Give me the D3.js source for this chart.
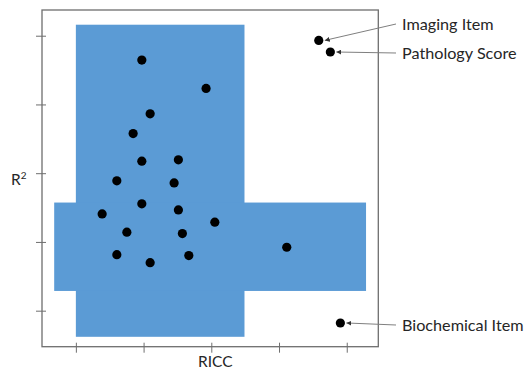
<!DOCTYPE html>
<html>
<head>
<meta charset="utf-8">
<script src="https://cdn.jsdelivr.net/npm/d3@7/dist/d3.min.js"></script>
<style>
  html, body { margin: 0; padding: 0; background: #fff; }
  svg { display: block; }
  text { font-family: Lato, "Open Sans", sans-serif; fill: #262626; }
</style>
</head>
<body>
<svg id="chart" width="527" height="372"></svg>
<script>
// ---- data ----
const xTicks = [1, 2, 3, 4, 5];
const yTicks = [1, 2, 3, 4, 5];
// acceptable region (cross shape): [x0, x1, y0, y1]
const regionVertical = [1.0, 3.49, 0.62, 5.16];
const regionHorizontal = [0.68, 5.285, 1.287, 2.573];
const pointX = [1.974, 2.923, 2.097, 1.846, 1.974, 2.514, 1.605, 2.451, 1.974, 1.388, 2.514,
                3.052, 1.753, 2.573, 1.605, 2.097, 2.668, 4.114, 4.906, 4.587, 4.758];
const pointY = [4.646, 4.233, 3.864, 3.577, 3.175, 3.194, 2.889, 2.859, 2.554, 2.408, 2.466,
                2.287, 2.142, 2.121, 1.815, 1.699, 1.801, 1.923, 0.821, 4.932, 4.763];
const annotLabels = ["Imaging Item", "Pathology Score", "Biochemical Item"];
const annotPointIndex = [19, 20, 18];
const xLabel = "RICC";

// ---- layout ----
const svg = d3.select("#chart");
const mLeft = 42, mTop = 10, mRight = 378.3, mBottom = 346.7;
const x = d3.scaleLinear().domain([0.5, 5.466]).range([mLeft, mRight]);
const y = d3.scaleLinear().domain([0.476, 5.374]).range([mBottom, mTop]);

// region
const regionColor = "#5b9bd5";
[regionVertical, regionHorizontal].forEach(r => {
  svg.append("rect")
    .attr("x", x(r[0])).attr("y", y(r[3]))
    .attr("width", x(r[1]) - x(r[0])).attr("height", y(r[2]) - y(r[3]))
    .attr("fill", regionColor);
});

// frame
svg.append("rect")
  .attr("x", mLeft).attr("y", mTop)
  .attr("width", mRight - mLeft).attr("height", mBottom - mTop)
  .attr("fill", "none").attr("stroke", "#6e6e6e").attr("stroke-width", 1.3);

// axes
const xAxis = svg.append("g").attr("transform", `translate(0,${mBottom})`)
  .call(d3.axisBottom(x).tickValues(xTicks).tickSize(6).tickFormat(""));
xAxis.select(".domain").remove();
xAxis.selectAll(".tick line").attr("y1", -4).attr("stroke", "#6e6e6e");

const yAxis = svg.append("g").attr("transform", `translate(${mLeft},0)`)
  .call(d3.axisLeft(y).tickValues(yTicks).tickSize(6).tickFormat(""));
yAxis.select(".domain").remove();
yAxis.selectAll(".tick line").attr("x1", 4).attr("stroke", "#6e6e6e");

// axis labels
svg.append("text").attr("x", (x(1) + x(5)) / 2 + 4).attr("y", 367)
  .attr("text-anchor", "middle").attr("font-size", 15.5).text(xLabel);
const rt = svg.append("text").attr("x", 11).attr("y", 185).attr("font-size", 15.5);
rt.append("tspan").text("R");
rt.append("tspan").attr("dy", -6).attr("font-size", 10).text("2");

// points
svg.append("g").selectAll("circle").data(pointX).join("circle")
  .attr("cx", (d, i) => x(d)).attr("cy", (d, i) => y(pointY[i]))
  .attr("r", 4.6).attr("fill", "#000");

// annotations
svg.append("defs").append("marker")
  .attr("id", "arrow").attr("viewBox", "0 0 10 10").attr("refX", 10).attr("refY", 5)
  .attr("markerWidth", 5).attr("markerHeight", 5).attr("orient", "auto")
  .append("path").attr("d", "M0,0L10,5L0,10Z").attr("fill", "#333");

const labelX = 402;
const labelY = [24, 53, 325];
annotLabels.forEach((lab, k) => {
  const i = annotPointIndex[k];
  const px = x(pointX[i]) + 6, py = y(pointY[i]);
  svg.append("line")
    .attr("x1", labelX - 6).attr("y1", labelY[k])
    .attr("x2", px).attr("y2", py)
    .attr("stroke", "#7f7f7f").attr("stroke-width", 1)
    .attr("marker-end", "url(#arrow)");
  svg.append("text").attr("x", labelX).attr("y", labelY[k])
    .attr("dy", "0.35em").attr("font-size", 16.2).text(lab);
});
</script>
</body>
</html>
